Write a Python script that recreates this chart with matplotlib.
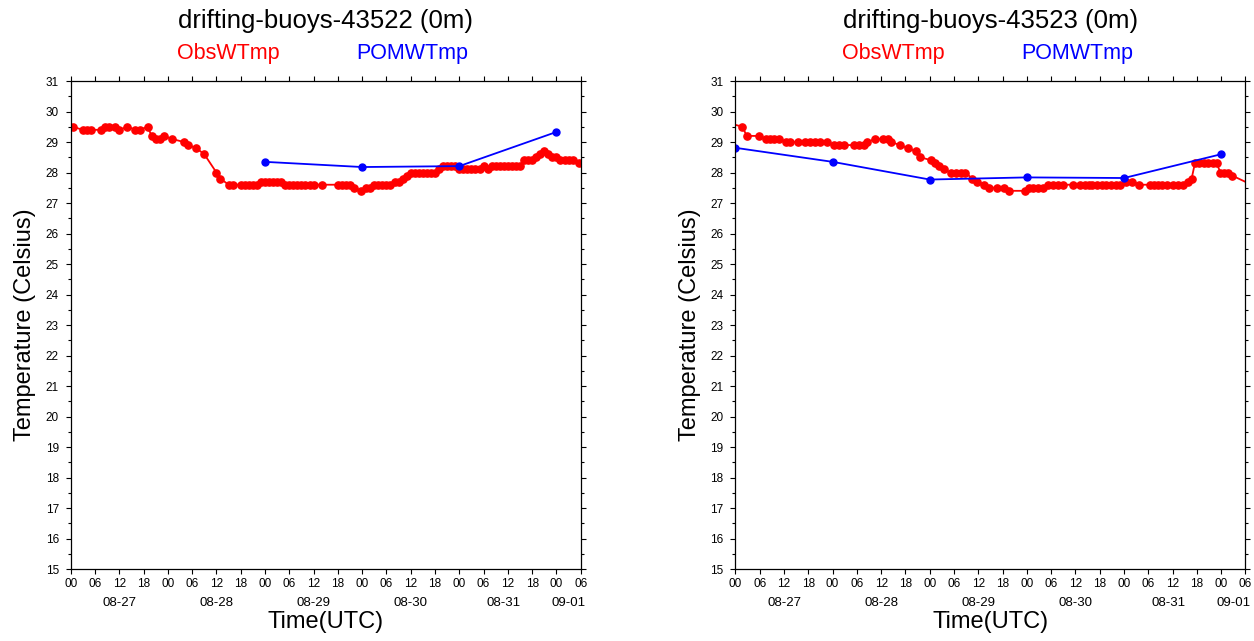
import matplotlib
matplotlib.use('Agg')
import matplotlib.pyplot as plt
from matplotlib.ticker import MultipleLocator, FixedLocator, FixedFormatter

plt.rcParams['font.family'] = ['Liberation Sans', 'DejaVu Sans']

# time axis: hours since 08-27 00UTC
hour_ticks = [0, 6, 12, 18, 24, 30, 36, 42, 48, 54, 60, 66, 72, 78, 84, 90, 96, 102, 108, 114, 120, 126]
hour_labels = ['00', '06', '12', '18'] * 5 + ['00', '06']
day_pos = [12, 36, 60, 84, 107, 123]
day_labels = ['08-27', '08-28', '08-29', '08-30', '08-31', '09-01']

# buoy 43522
obs_h_43522 = [0.5, 3, 4, 5, 7.5, 8.5, 9.5, 11, 12, 14, 16, 17, 19, 20, 21, 22, 23, 25,
               28, 29, 31, 33, 36, 37, 39, 40, 42, 43, 44, 45, 46, 47, 48, 49, 50, 51, 52,
               53, 54, 55, 56, 57, 58, 59, 60, 62, 66, 67, 68, 69, 70, 71.7, 73, 74,
               75, 76, 77, 78, 79, 80, 81, 82, 83, 84, 85, 86, 87, 88, 89, 90, 91,
               92, 93, 94, 95, 96, 97, 98, 99, 100, 101, 102, 103, 104, 105, 106, 107,
               108, 109, 110, 111, 112, 113, 114, 115, 116, 117, 118, 119, 120, 121,
               122, 123, 124, 125.6]
obs_t_43522 = [29.5, 29.4, 29.4, 29.4, 29.4, 29.5, 29.5, 29.5, 29.4, 29.5, 29.4, 29.4, 29.5,
               29.2, 29.1, 29.1, 29.2, 29.1,
               29.0, 28.9, 28.8, 28.6, 28.0, 27.8, 27.6, 27.6, 27.6, 27.6, 27.6, 27.6, 27.6,
               27.7, 27.7, 27.7, 27.7, 27.7, 27.7,
               27.6, 27.6, 27.6, 27.6, 27.6, 27.6, 27.6, 27.6, 27.6, 27.6, 27.6, 27.6, 27.6,
               27.5, 27.4, 27.5, 27.5,
               27.6, 27.6, 27.6, 27.6, 27.6, 27.7, 27.7, 27.8, 27.9, 28.0, 28.0, 28.0, 28.0,
               28.0, 28.0, 28.0, 28.1,
               28.2, 28.2, 28.2, 28.2, 28.1, 28.1, 28.1, 28.1, 28.1, 28.1, 28.2, 28.1, 28.2,
               28.2, 28.2, 28.2,
               28.2, 28.2, 28.2, 28.2, 28.4, 28.4, 28.4, 28.5, 28.6, 28.7, 28.6, 28.5, 28.5,
               28.4, 28.4, 28.4, 28.4, 28.3]
pom_h_43522 = [48, 72, 96, 120]
pom_t_43522 = [28.35, 28.18, 28.21, 29.33]

# buoy 43523
obs_h_43523 = [-1, 1.7, 2.8, 5.7, 7.5, 8.5, 9.5, 10.8, 12.6, 13.4, 15.4, 17.3, 18.5, 19.7,
               20.8, 22.7, 24.4, 25.6, 26.8, 29.4, 30.5, 31.7, 32.6, 34.5, 36.5, 37.7,
               38.5, 40.6, 42.6, 44.5, 45.7, 48.4, 49.4, 50.4, 51.5, 53.2, 54.4, 55.6,
               56.8, 58.5, 59.7, 61.5, 62.7, 64.5, 66.3, 67.6, 71.5, 72.4, 73.6, 74.8,
               76.0, 77.2, 78.4, 79.6, 80.9, 83.4, 85.1, 86.3, 87.3, 88.2, 89.2, 90.5,
               91.6, 92.7, 93.9, 95.0, 96.5, 97.9, 99.8, 102.4, 103.4, 104.5, 105.5,
               106.5, 108.0, 109.3, 110.6, 111.9, 112.7, 113.5, 114.6, 115.7, 116.8,
               117.9, 118.9, 119.8, 120.8, 121.8, 122.7, 127.5]
obs_t_43523 = [29.6, 29.5, 29.2, 29.2, 29.1, 29.1, 29.1, 29.1, 29.0, 29.0, 29.0, 29.0, 29.0, 29.0,
               29.0, 29.0, 28.9, 28.9, 28.9, 28.9, 28.9, 28.9, 29.0, 29.1, 29.1, 29.1,
               29.0, 28.9, 28.8, 28.7, 28.5, 28.4, 28.3, 28.2, 28.1, 28.0, 28.0, 28.0,
               28.0, 27.8, 27.7, 27.6, 27.5, 27.5, 27.5, 27.4, 27.4, 27.5, 27.5, 27.5,
               27.5, 27.6, 27.6, 27.6, 27.6, 27.6, 27.6, 27.6, 27.6, 27.6, 27.6, 27.6,
               27.6, 27.6, 27.6, 27.6, 27.7, 27.7, 27.6, 27.6, 27.6, 27.6, 27.6,
               27.6, 27.6, 27.6, 27.6, 27.7, 27.8, 28.3, 28.3, 28.3, 28.3,
               28.3, 28.3, 28.0, 28.0, 28.0, 27.9, 27.6]
pom_h_43523 = [0, 24, 48, 72, 96, 120]
pom_t_43523 = [28.81, 28.35, 27.77, 27.84, 27.82, 28.6]


def draw_panel(ax, title, obs_h, obs_t, pom_h, pom_t):
    ax.plot(obs_h, obs_t, color='#ff0000', lw=1.3, marker='o', ms=5.2, mec='#ff0000')
    ax.plot(pom_h, pom_t, color='#0000ff', lw=1.3, marker='o', ms=5.0, mec='#0000ff')

    ax.set_xlim(0, 126)
    ax.set_ylim(15, 31)

    ax.xaxis.set_major_locator(FixedLocator(hour_ticks))
    ax.xaxis.set_major_formatter(FixedFormatter(hour_labels))
    ax.yaxis.set_major_locator(MultipleLocator(1))
    ax.yaxis.set_minor_locator(MultipleLocator(0.5))

    ax.tick_params(which='both', direction='out', top=True, right=True,
                   width=0.8, colors='black', labelsize=8.5)
    ax.tick_params(which='major', length=3.5)
    ax.tick_params(which='minor', length=2)
    ax.tick_params(axis='x', pad=3)
    ax.tick_params(axis='y', pad=5)
    for s in ax.spines.values():
        s.set_linewidth(0.9)

    for pos, lab in zip(day_pos, day_labels):
        ax.annotate(lab, xy=(pos, 0), xycoords=('data', 'axes fraction'),
                    xytext=(0, -24.5), textcoords='offset points',
                    ha='center', va='center', fontsize=9.5)

    ax.set_xlabel('Time(UTC)', fontsize=17, labelpad=15)
    ax.set_ylabel('Temperature (Celsius)', fontsize=17, labelpad=7)

    ax.annotate(title, xy=(0.5, 1), xycoords='axes fraction', xytext=(0, 38),
                textcoords='offset points', ha='center', va='baseline', fontsize=18.5)
    ax.annotate('ObsWTmp', xy=(0.208, 1), xycoords='axes fraction', xytext=(0, 16),
                textcoords='offset points', ha='left', va='baseline',
                fontsize=15.5, color='#ff0000')
    ax.annotate('POMWTmp', xy=(0.779, 1), xycoords='axes fraction', xytext=(0, 16),
                textcoords='offset points', ha='right', va='baseline',
                fontsize=15.5, color='#0000ff')


fig = plt.figure(figsize=(12.54, 6.41), dpi=100)
ax1 = fig.add_axes([0.0564, 0.1123, 0.4067, 0.7613])
ax2 = fig.add_axes([0.5865, 0.1123, 0.4067, 0.7613])

draw_panel(ax1, 'drifting-buoys-43522 (0m)', obs_h_43522, obs_t_43522, pom_h_43522, pom_t_43522)
draw_panel(ax2, 'drifting-buoys-43523 (0m)', obs_h_43523, obs_t_43523, pom_h_43523, pom_t_43523)

fig.savefig('out.png', dpi=100)
